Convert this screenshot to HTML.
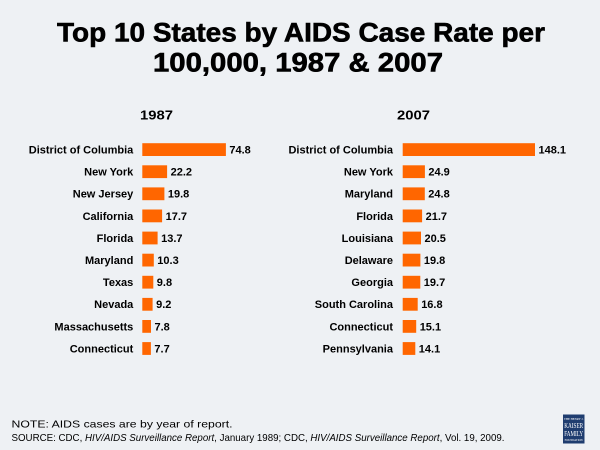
<!DOCTYPE html>
<html><head><meta charset="utf-8"><style>
html,body{margin:0;padding:0;background:#eef1f4;}
svg{display:block;}
</style></head><body>
<svg width="600" height="450" viewBox="0 0 600 450" xmlns="http://www.w3.org/2000/svg" font-family="Liberation Sans, Arial, sans-serif">
<rect x="0" y="0" width="600" height="450" fill="#eef1f4"/>
<text x="57" y="41.7" font-size="26.5" font-weight="bold" fill="#000" stroke="#000" stroke-width="0.6" textLength="488" lengthAdjust="spacingAndGlyphs">Top 10 States by AIDS Case Rate per</text>
<text x="153" y="71.7" font-size="26.5" font-weight="bold" fill="#000" stroke="#000" stroke-width="0.6" textLength="290" lengthAdjust="spacingAndGlyphs">100,000, 1987 &amp; 2007</text>
<text x="140" y="119.3" font-size="13" font-weight="bold" textLength="33" lengthAdjust="spacingAndGlyphs">1987</text>
<text x="397" y="119.3" font-size="13" font-weight="bold" textLength="33" lengthAdjust="spacingAndGlyphs">2007</text>
<g font-size="11" font-weight="bold" fill="#000">
<!-- left chart -->
<g text-anchor="end">
<text x="133.3" y="153.5">District of Columbia</text>
<text x="133.3" y="175.6">New York</text>
<text x="133.3" y="197.7">New Jersey</text>
<text x="133.3" y="219.8">California</text>
<text x="133.3" y="241.9">Florida</text>
<text x="133.3" y="264.0">Maryland</text>
<text x="133.3" y="286.1">Texas</text>
<text x="133.3" y="308.2">Nevada</text>
<text x="133.3" y="330.3">Massachusetts</text>
<text x="133.3" y="352.4">Connecticut</text>
</g>
<g fill="#ff6600">
<rect x="142.3" y="143.2" width="83.6" height="12.8"/>
<rect x="142.3" y="165.3" width="24.8" height="12.8"/>
<rect x="142.3" y="187.4" width="22.1" height="12.8"/>
<rect x="142.3" y="209.5" width="19.8" height="12.8"/>
<rect x="142.3" y="231.6" width="15.3" height="12.8"/>
<rect x="142.3" y="253.7" width="11.5" height="12.8"/>
<rect x="142.3" y="275.8" width="11.0" height="12.8"/>
<rect x="142.3" y="297.9" width="10.3" height="12.8"/>
<rect x="142.3" y="320.0" width="8.7" height="12.8"/>
<rect x="142.3" y="342.1" width="8.6" height="12.8"/>
</g>
<text x="229.4" y="153.5">74.8</text>
<text x="170.6" y="175.6">22.2</text>
<text x="167.9" y="197.7">19.8</text>
<text x="165.6" y="219.8">17.7</text>
<text x="161.1" y="241.9">13.7</text>
<text x="157.3" y="264.0">10.3</text>
<text x="156.8" y="286.1">9.8</text>
<text x="156.1" y="308.2">9.2</text>
<text x="154.5" y="330.3">7.8</text>
<text x="154.4" y="352.4">7.7</text>
<!-- right chart -->
<g text-anchor="end">
<text x="393" y="153.5">District of Columbia</text>
<text x="393" y="175.6">New York</text>
<text x="393" y="197.7">Maryland</text>
<text x="393" y="219.8">Florida</text>
<text x="393" y="241.9">Louisiana</text>
<text x="393" y="264.0">Delaware</text>
<text x="393" y="286.1">Georgia</text>
<text x="393" y="308.2">South Carolina</text>
<text x="393" y="330.3">Connecticut</text>
<text x="393" y="352.4">Pennsylvania</text>
</g>
<g fill="#ff6600">
<rect x="402.7" y="143.2" width="132.3" height="12.8"/>
<rect x="402.7" y="165.3" width="22.2" height="12.8"/>
<rect x="402.7" y="187.4" width="22.1" height="12.8"/>
<rect x="402.7" y="209.5" width="19.4" height="12.8"/>
<rect x="402.7" y="231.6" width="18.3" height="12.8"/>
<rect x="402.7" y="253.7" width="17.7" height="12.8"/>
<rect x="402.7" y="275.8" width="17.6" height="12.8"/>
<rect x="402.7" y="297.9" width="15.0" height="12.8"/>
<rect x="402.7" y="320.0" width="13.5" height="12.8"/>
<rect x="402.7" y="342.1" width="12.6" height="12.8"/>
</g>
<text x="538.5" y="153.5">148.1</text>
<text x="428.4" y="175.6">24.9</text>
<text x="428.3" y="197.7">24.8</text>
<text x="425.6" y="219.8">21.7</text>
<text x="424.5" y="241.9">20.5</text>
<text x="423.9" y="264.0">19.8</text>
<text x="423.8" y="286.1">19.7</text>
<text x="421.2" y="308.2">16.8</text>
<text x="419.7" y="330.3">15.1</text>
<text x="418.8" y="352.4">14.1</text>
</g>
<text x="11.5" y="427.5" font-size="10.5" fill="#000" textLength="221" lengthAdjust="spacingAndGlyphs">NOTE: AIDS cases are by year of report.</text>
<text x="11.5" y="441" font-size="10.5" fill="#000" textLength="493" lengthAdjust="spacingAndGlyphs">SOURCE: CDC, <tspan font-style="italic">HIV/AIDS Surveillance Report</tspan>, January 1989; CDC, <tspan font-style="italic">HIV/AIDS Surveillance Report</tspan>, Vol. 19, 2009.</text>
<rect x="563" y="414.5" width="21.5" height="29" fill="#1f3d6f"/>
<g font-family="Liberation Serif, serif" fill="#ffffff" text-anchor="middle">
<text x="573.7" y="420" font-size="3">THE HENRY J.</text>
<text x="573.7" y="428" font-size="7" textLength="19" lengthAdjust="spacingAndGlyphs">KAISER</text>
<text x="573.7" y="436" font-size="7" textLength="19" lengthAdjust="spacingAndGlyphs">FAMILY</text>
<text x="573.7" y="441" font-size="2.8">FOUNDATION</text>
</g>
</svg>
</body></html>
